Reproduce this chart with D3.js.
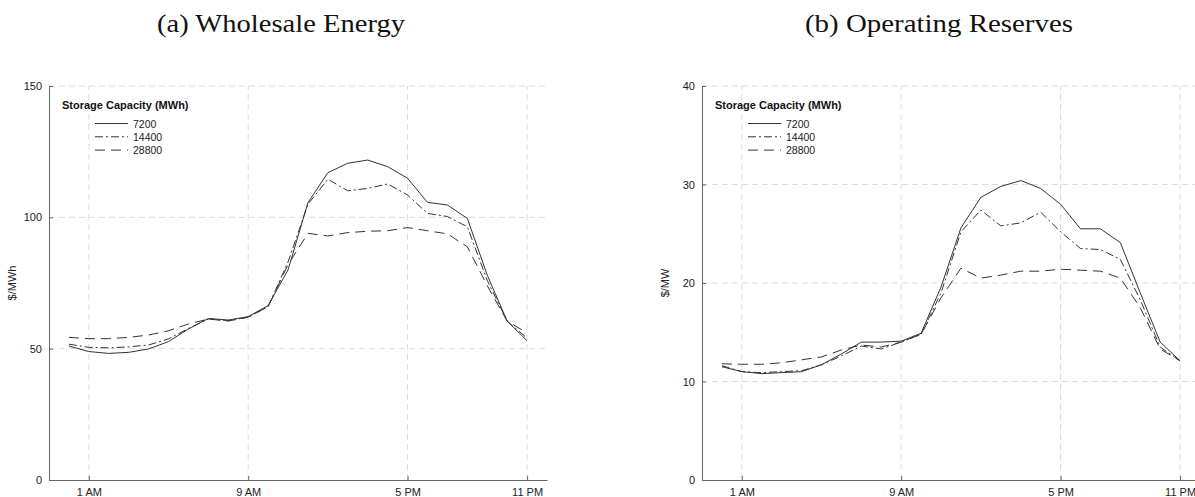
<!DOCTYPE html>
<html>
<head>
<meta charset="utf-8">
<script src="https://cdn.jsdelivr.net/npm/d3@7"></script>
<style>
  body { margin: 0; background: #fff; }
  svg { display: block; }
  .tick text { font-family: "Liberation Sans", Arial, sans-serif; font-size: 11px; fill: #222; }
</style>
</head>
<body>
<svg id="fig" width="1195" height="497"></svg>
<script>
// hour of day, 0 = midnight
const hours = d3.range(0, 24);
const hourTicks = [1, 9, 17, 23];
const hourLabels = ['1 AM', '9 AM', '5 PM', '11 PM'];
const capacities = ['7200', '14400', '28800'];

// wholesale energy price, $/MWh
const energy7200 = [51.0, 48.9, 48.2, 48.6, 49.9, 52.7, 57.5, 61.5, 60.9, 62.2, 66.4, 80.0,
  105.6, 117.0, 120.6, 121.8, 119.3, 114.9, 105.7, 104.7, 99.6, 78.0, 60.5, 53.0];
const energy14400 = [51.7, 50.5, 50.3, 50.7, 51.4, 53.7, 57.7, 61.3, 60.7, 62.0, 66.0, 83.0,
  105.0, 114.5, 110.1, 111.0, 112.7, 108.5, 101.5, 100.3, 96.4, 76.0, 60.5, 54.0];
const energy28800 = [54.3, 53.8, 53.8, 54.3, 55.2, 56.8, 59.4, 61.3, 60.5, 62.0, 66.0, 82.0,
  93.9, 92.9, 94.2, 94.7, 94.9, 96.1, 94.9, 93.7, 88.8, 74.0, 60.5, 56.0];

// operating reserve price, $/MW
const reserve7200 = [11.5, 11.0, 10.8, 10.9, 11.0, 11.7, 12.8, 14.0, 14.0, 14.1, 14.9, 19.6,
  25.6, 28.7, 29.8, 30.4, 29.6, 28.0, 25.5, 25.5, 24.1, 19.0, 14.0, 12.1];
const reserve14400 = [11.6, 11.0, 10.9, 11.0, 11.1, 11.7, 12.6, 13.6, 13.3, 14.0, 14.8, 19.0,
  25.2, 27.4, 25.8, 26.1, 27.2, 25.2, 23.5, 23.4, 22.4, 18.3, 13.5, 12.1];
const reserve28800 = [11.8, 11.75, 11.75, 11.9, 12.2, 12.5, 13.2, 13.7, 13.5, 14.0, 14.8, 18.5,
  21.5, 20.5, 20.8, 21.2, 21.2, 21.4, 21.3, 21.2, 20.5, 17.5, 13.3, 12.1];

const dashes = ['none', '8,3,2,3', '10,6'];

const svg = d3.select('#fig');

function panel(opts) {
  const g = svg.append('g');
  const x = d3.scaleLinear().domain([-1, 24]).range([opts.left, opts.left + 498]);
  const y = d3.scaleLinear().domain([0, opts.yMax]).range([480, 86]);

  svg.append('text')
    .attr('x', opts.titleX).attr('y', 31.5)
    .attr('text-anchor', 'middle')
    .attr('font-family', '"Liberation Serif", "DejaVu Serif", serif')
    .attr('font-size', 26)
    .attr('textLength', opts.titleLen)
    .attr('lengthAdjust', 'spacingAndGlyphs')
    .attr('fill', '#111')
    .text(opts.title);

  // dashed grid
  g.selectAll('.hg')
    .data(opts.yTicks.filter(d => d > 0))
    .enter().append('line')
    .attr('x1', x(-1)).attr('x2', x(24))
    .attr('y1', d => y(d)).attr('y2', d => y(d))
    .attr('stroke', '#dcdcdc').attr('stroke-dasharray', '6,4');
  g.selectAll('.vg')
    .data(hourTicks)
    .enter().append('line')
    .attr('x1', d => x(d)).attr('x2', d => x(d))
    .attr('y1', y(0)).attr('y2', y(opts.yMax))
    .attr('stroke', '#dcdcdc').attr('stroke-dasharray', '6,4');

  const yAxis = d3.axisLeft(y).tickValues(opts.yTicks).tickSizeInner(-4).tickSizeOuter(0).tickPadding(7);
  const ya = g.append('g').attr('transform', `translate(${x(-1)},0)`).call(yAxis);
  const xAxis = d3.axisBottom(x).tickValues(hourTicks).tickFormat((d, i) => hourLabels[i])
    .tickSizeInner(-4).tickSizeOuter(0).tickPadding(8);
  const xa = g.append('g').attr('transform', `translate(0,${y(0)})`).call(xAxis);
  [ya, xa].forEach(a => {
    a.select('.domain').attr('stroke', '#666');
    a.selectAll('.tick line').attr('stroke', '#666');
  });

  g.append('text')
    .attr('transform', `translate(${opts.left - 33},${y(opts.yMax / 2)}) rotate(-90)`)
    .attr('text-anchor', 'middle')
    .attr('font-family', '"Liberation Sans", Arial, sans-serif')
    .attr('font-size', 11)
    .attr('fill', '#222')
    .text(opts.yLabel);

  const line = d3.line().x((d, i) => x(hours[i])).y(d => y(d));
  g.selectAll('.series')
    .data(opts.series)
    .enter().append('path')
    .attr('d', d => line(d))
    .attr('fill', 'none')
    .attr('stroke', '#333')
    .attr('stroke-width', 1)
    .attr('stroke-dasharray', (d, i) => dashes[i]);

  // legend
  const lg = g.append('g').attr('transform', `translate(${opts.left + 13},0)`);
  lg.append('text')
    .attr('x', 0).attr('y', 109)
    .attr('font-family', '"Liberation Sans", Arial, sans-serif')
    .attr('font-size', 11).attr('font-weight', 'bold')
    .attr('fill', '#111')
    .text('Storage Capacity (MWh)');
  const rows = lg.selectAll('.row')
    .data(capacities)
    .enter().append('g')
    .attr('transform', (d, i) => `translate(0,${123.5 + i * 13.3})`);
  rows.append('line')
    .attr('x1', 33).attr('x2', 66)
    .attr('stroke', '#333')
    .attr('stroke-dasharray', (d, i) => dashes[i]);
  rows.append('text')
    .attr('x', 71).attr('y', 4)
    .attr('font-family', '"Liberation Sans", Arial, sans-serif')
    .attr('font-size', 10.5)
    .attr('fill', '#222')
    .text(d => d);
}

panel({
  left: 49, yMax: 150, yTicks: [0, 50, 100, 150], yLabel: '$/MWh',
  title: '(a) Wholesale Energy', titleX: 281, titleLen: 248,
  series: [energy7200, energy14400, energy28800]
});
panel({
  left: 702, yMax: 40, yTicks: [0, 10, 20, 30, 40], yLabel: '$/MW',
  title: '(b) Operating Reserves', titleX: 939, titleLen: 268,
  series: [reserve7200, reserve14400, reserve28800]
});
</script>
</body>
</html>
